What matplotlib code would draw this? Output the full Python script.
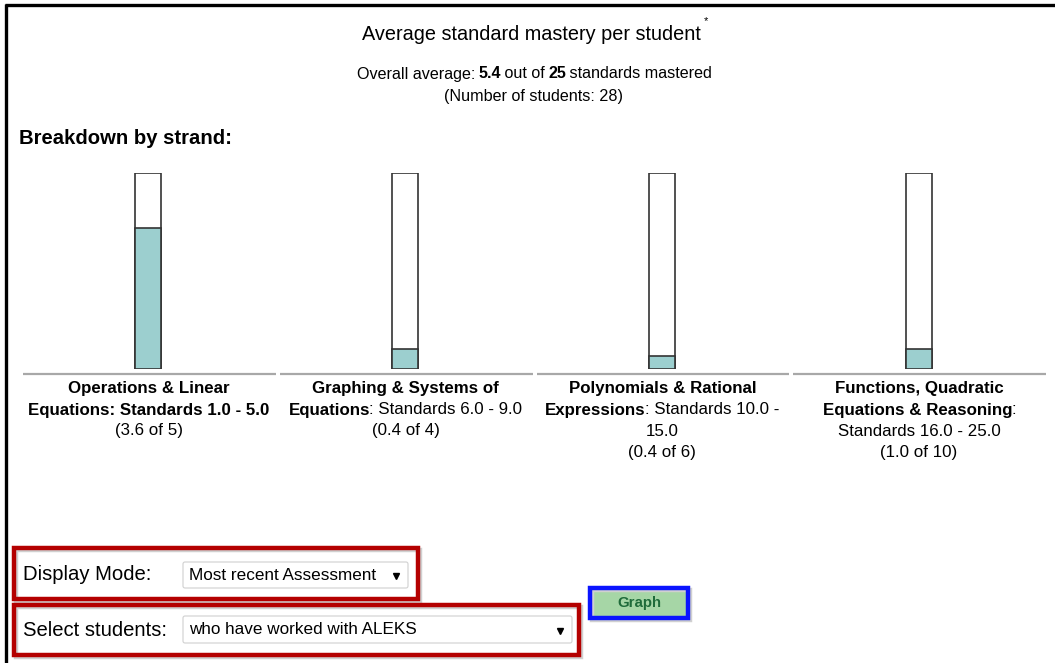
import matplotlib
matplotlib.use("Agg")
import matplotlib.pyplot as plt
from matplotlib.patches import Rectangle, FancyBboxPatch

plt.rcParams['font.family'] = ['Liberation Sans', 'DejaVu Sans']

# strand data
strand_names = ["Operations & Linear Equations", "Graphing & Systems of Equations",
                "Polynomials & Rational Expressions",
                "Functions, Quadratic Equations & Reasoning"]
mastered = [3.6, 0.4, 0.4, 1.0]
totals = [5, 4, 6, 10]
n_students = 28

# label lines under each bar: (text, bold) pieces per line
label_lines = [
    [[("Operations & Linear", True)],
     [("Equations: Standards 1.0 - 5.0", True)]],
    [[("Graphing & Systems of", True)],
     [("Equations", True), (": Standards 6.0 - 9.0", False)]],
    [[("Polynomials & Rational", True)],
     [("Expressions", True), (": Standards 10.0 -", False)],
     [("15.0", False)]],
    [[("Functions, Quadratic", True)],
     [("Equations & Reasoning", True), (":", False)],
     [("Standards 16.0 - 25.0", False)]],
]

W, H = 1055, 663
fig = plt.figure(figsize=(W / 100, H / 100), dpi=100)
fig.patch.set_facecolor("white")
renderer = fig.canvas.get_renderer()

# overlay axes in pixel units for the page furniture
ax0 = fig.add_axes([0, 0, 1, 1])
ax0.set_xlim(0, W)
ax0.set_ylim(H, 0)
ax0.axis("off")


def piece_width(s, size, bold):
    # width with a guard char so trailing spaces count
    w = "bold" if bold else "normal"
    t1 = ax0.text(0, 0, s + "|", fontsize=size, fontweight=w)
    t2 = ax0.text(0, 0, "|", fontsize=size, fontweight=w)
    wd = t1.get_window_extent(renderer).width - t2.get_window_extent(renderer).width
    t1.remove()
    t2.remove()
    return wd - 1


def mixed_line(xc, y, pieces, size, color="black"):
    widths = [piece_width(s, size, b) for s, b in pieces]
    x = xc - sum(widths) / 2
    for (s, b), wd in zip(pieces, widths):
        ax0.text(x, y, s, fontsize=size, fontweight="bold" if b else "normal",
                 ha="left", va="center", color=color)
        x += wd


# black page frame (top and left)
ax0.plot([5, W], [4.5, 4.5], color="black", lw=2.4, solid_capstyle="butt")
ax0.plot([6, 6], [3.5, H], color="black", lw=2.4, solid_capstyle="butt")

# headings
ax0.text(531, 35, "Average standard mastery per student", fontsize=14.3,
         ha="center", va="center")
ax0.text(706, 21, "*", fontsize=8, ha="center", va="center")
overall = sum(mastered)
mixed_line(534, 74, [("Overall average: ", False), ("%.1f" % overall, True),
                     (" out of ", False), ("%d" % sum(totals), True),
                     (" standards mastered", False)], 11.6)
ax0.text(534, 96, "(Number of students: %d)" % n_students, fontsize=11.6,
         ha="center", va="center")
ax0.text(19, 139, "Breakdown by strand:", fontsize=14.6, fontweight="bold",
         ha="left", va="center")

# bar axes: one slot per strand, values as fraction of standards
ax = fig.add_axes([20 / W, 1 - 369 / H, (1047 - 20) / W, 196 / H])
ax.set_xlim(-0.5, len(mastered) - 0.5)
ax.set_ylim(0, 1)
ax.axis("off")
x = range(len(mastered))
frac = [m / t for m, t in zip(mastered, totals)]
ax.bar(x, [1] * len(mastered), width=0.101, color="white", edgecolor="#333333", lw=1.2)
ax.bar(x, frac, width=0.101, color="#9ccfcf", edgecolor="#333333", lw=1.2)
ax.patch.set_alpha(0)

# gray separators under each strand + labels
slot = (1047 - 20) / len(mastered)
for i in range(len(mastered)):
    xc = 20 + slot * (i + 0.5)
    ax0.plot([20 + slot * i + 3, 20 + slot * (i + 1) - 1], [374, 374],
             color="#a8a8a8", lw=1.6, solid_capstyle="butt")
    lines = label_lines[i] + [[("(%.1f of %d)" % (mastered[i], totals[i]), False)]]
    for j, pieces in enumerate(lines):
        mixed_line(xc, 389 + 21 * j, pieces, 12.2)

# form controls
red = "#b40000"


def framed(x0, y0, x1, y1, color, lw):
    ax0.add_patch(Rectangle((x0 + 2, y0 + 2), x1 - x0, y1 - y0, fill=False,
                            edgecolor="#d0d0d0", lw=lw))
    ax0.add_patch(Rectangle((x0, y0), x1 - x0, y1 - y0, fill=False,
                            edgecolor=color, lw=lw))


def dropdown(x0, y0, x1, y1, label):
    ax0.add_patch(FancyBboxPatch((x0, y0), x1 - x0, y1 - y0,
                                 boxstyle="round,pad=0,rounding_size=2",
                                 facecolor="white", edgecolor="#d0d0d0", lw=0.8))
    ax0.text(x0 + 6, (y0 + y1) / 2, label, fontsize=12.3, ha="left", va="center")
    ax0.plot([x1 - 12], [(y0 + y1) / 2 + 1], marker="v", color="black", ms=3.8)


framed(14, 548, 418, 599, red, 3.2)
ax0.text(23, 575, "Display Mode:", fontsize=14.6, ha="left", va="center")
dropdown(183, 562, 408, 588, "Most recent Assessment")

framed(14, 605, 579, 655, red, 3.2)
ax0.text(23, 630, "Select students:", fontsize=14.6, ha="left", va="center")
dropdown(183, 616, 572, 643, "who have worked with ALEKS")

# Graph button
ax0.add_patch(Rectangle((590, 588), 98, 30, facecolor="#a6d6a6", edgecolor="none"))
framed(590, 588, 688, 618, "#0a14ff", 3.2)
ax0.text(639, 603, "Graph", fontsize=10.8, fontweight="bold", color="#1f6b3a",
         ha="center", va="center")

fig.savefig("out.png", dpi=100, facecolor="white")
